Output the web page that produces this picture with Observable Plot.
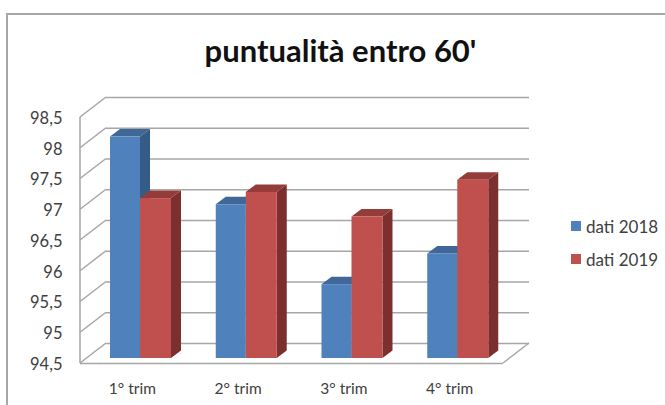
<!DOCTYPE html>
<html lang="it">
<head>
<meta charset="utf-8">
<script src="https://cdn.jsdelivr.net/npm/d3@7"></script>
<script src="https://cdn.jsdelivr.net/npm/@observablehq/plot@0.6"></script>
<style>
  html, body { margin: 0; padding: 0; background: #fff; }
  #chart { position: relative; width: 665px; height: 405px; overflow: hidden; font-family: Lato, sans-serif; }
  #chart svg { position: absolute; left: 0; top: 0; font-family: Lato, sans-serif; }
  #border { position: absolute; left: 6px; top: 13px; right: -4px; bottom: -4px; border: 2px solid #a6a6a6; }
  h1 { position: absolute; left: 0; top: 31px; width: 681px; margin: 0; text-align: center; font-size: 31px; line-height: 38px; font-weight: 700; color: #111; }
  .legend { position: absolute; left: 571px; top: 209.5px; }
  .item { display: flex; align-items: center; height: 33px; font-size: 17px; color: #404040; white-space: nowrap; }
  .item i { display: block; width: 10px; height: 10px; margin-right: 5px; }
</style>
</head>
<body>
<div id="chart">
  <div id="border"></div>
  <h1>puntualità entro 60'</h1>
  <div class="legend" id="legend"></div>
</div>
<script>
const categories = ["1° trim", "2° trim", "3° trim", "4° trim"];
const dati2018 = [98.1, 97.0, 95.7, 96.2];
const dati2019 = [97.1, 97.2, 96.8, 97.4];
const yTicks = [94.5, 95, 95.5, 96, 96.5, 97, 97.5, 98, 98.5];
const seriesNames = ["dati 2018", "dati 2019"];
const front = ["#4f81bd", "#c0504d"];
const side = ["#355b87", "#7b302f"];
const top_ = ["#3f6797", "#943c3a"];
const gridColor = "#a6a6a6";

// depth of the 3-D look, in pixels
const wall = {dx: 26, dy: -20};
const bar3d = {dx: 10, dy: -7.5};

function poly(g, before, pts, fill) {
  const p = document.createElementNS("http://www.w3.org/2000/svg", "polygon");
  p.setAttribute("points", pts.map(d => d.join(",")).join(" "));
  p.setAttribute("fill", fill);
  g.insertBefore(p, before);
}

// Adds the side and top faces behind each bar that Plot drew
function withDepth(s) {
  return function (index, scales, values, dimensions, context, next) {
    const g = next(index, scales, values, dimensions, context);
    for (const r of Array.from(g.querySelectorAll("rect"))) {
      const x = +r.getAttribute("x"), y = +r.getAttribute("y");
      const w = +r.getAttribute("width"), h = +r.getAttribute("height");
      const {dx, dy} = bar3d;
      poly(g, r, [[x + w, y], [x + w + dx, y + dy], [x + w + dx, y + h + dy], [x + w, y + h]], side[s]);
      poly(g, r, [[x, y], [x + dx, y + dy], [x + w + dx, y + dy], [x + w, y]], top_[s]);
    }
    return g;
  };
}

// Left edge and the diagonals joining the front edge of the chart to its back wall
function wallLines(index, scales, values, dimensions) {
  const g = d3.create("svg:g").attr("stroke", gridColor).attr("stroke-width", 1.5);
  const left = dimensions.marginLeft, right = dimensions.width - dimensions.marginRight;
  const y0 = scales.y(yTicks[0]), y1 = scales.y(yTicks[yTicks.length - 1]);
  g.append("line").attr("x1", left).attr("x2", left).attr("y1", y0).attr("y2", y1);
  for (const t of yTicks) {
    g.append("line").attr("x1", left).attr("x2", left + wall.dx)
      .attr("y1", scales.y(t)).attr("y2", scales.y(t) + wall.dy);
  }
  g.append("line").attr("x1", right).attr("x2", right + wall.dx)
    .attr("y1", y0).attr("y2", y0 + wall.dy);
  return g.node();
}

const rows = s => categories.map((c, i) => ({cat: c, value: (s ? dati2019 : dati2018)[i]}));
const bandW = 105.75;
const seriesBar = (s, insetLeft, insetRight) => Plot.barY(rows(s), {
  x: "cat", y1: yTicks[0], y2: "value", fill: front[s], dy: -5,
  insetLeft, insetRight, render: withDepth(s)
});

const plot = Plot.plot({
  width: 665, height: 405,
  marginLeft: 80, marginRight: 162, marginTop: 117, marginBottom: 42,
  style: {background: "transparent", overflow: "visible"},
  x: {domain: categories, padding: 0, round: false, label: null},
  y: {domain: [yTicks[0], yTicks[yTicks.length - 1]], label: null},
  marks: [
    Plot.ruleY(yTicks, {stroke: gridColor, strokeWidth: 1.5, strokeOpacity: 1, dx: wall.dx, dy: wall.dy}),
    Plot.ruleY([yTicks[0]], {stroke: gridColor, strokeWidth: 1.5, strokeOpacity: 1}),
    wallLines,
    seriesBar(0, 30, bandW - 60),
    seriesBar(1, 60, bandW - 91),
    Plot.axisY({
      ticks: yTicks, tickSize: 0, tickPadding: 18, label: null, fontSize: 16.5,
      fill: "#404040", dy: 1,
      tickFormat: d => String(d).replace(".", ",")
    }),
    Plot.axisX({tickSize: 0, tickPadding: 19, label: null, fontSize: 15.5, fill: "#404040", dx: -1})
  ]
});
document.getElementById("chart").appendChild(plot);

const legend = document.getElementById("legend");
seriesNames.forEach((name, i) => {
  const item = document.createElement("div");
  item.className = "item";
  const sw = document.createElement("i");
  sw.style.background = front[i];
  item.appendChild(sw);
  item.appendChild(document.createTextNode(name));
  legend.appendChild(item);
});
</script>
</body>
</html>
